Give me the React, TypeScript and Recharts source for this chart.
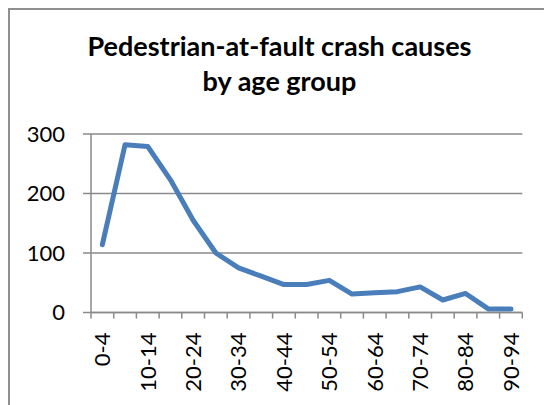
import { LineChart, Line, XAxis, YAxis, CartesianGrid } from "recharts"

const ageGroups = [
  "0-4", "5-9", "10-14", "15-19", "20-24", "25-29", "30-34", "35-39", "40-44", "45-49",
  "50-54", "55-59", "60-64", "65-69", "70-74", "75-79", "80-84", "85-89", "90-94",
]
const crashes = [114, 282, 279, 223, 155, 100, 75, 61, 47, 47, 54, 31, 33, 35, 43, 21, 32, 6, 6]
const yTicks = [0, 100, 200, 300]
const titleLines = ["Pedestrian-at-fault crash causes", "by age group"]

const data = ageGroups.map((group, i) => ({ idx: i, group, crashes: crashes[i] }))

// tick slots: category edges (x.5) get a tick mark, every other category center gets a label
const xTicks: number[] = []
for (let v = -0.5; v <= ageGroups.length - 0.5; v += 0.5) xTicks.push(v)

const GRID = "#8a8a8a"
const FONT = "Lato, 'Open Sans', sans-serif"

function AgeTick(props: any) {
  const { x, y, payload } = props
  const v = payload.value
  if (!Number.isInteger(v)) {
    return <line x1={x} x2={x} y1={y} y2={y + 6} stroke={GRID} strokeWidth={1.5} />
  }
  if (v % 2 !== 0) return <g />
  const ty = y + 20
  return (
    <text
      x={x}
      y={ty}
      transform={`rotate(-90, ${x}, ${ty})`}
      textAnchor="end"
      dy="0.36em"
      fontSize={22}
      fontFamily={FONT}
      fill="#000"
    >
      {ageGroups[v]}
    </text>
  )
}

export default function App() {
  return (
    <div
      style={{
        position: "absolute",
        left: 8,
        top: 8,
        width: 536,
        height: 397,
        borderTop: "2px solid #8f8f8f",
        borderLeft: "2px solid #8f8f8f",
        boxSizing: "border-box",
        background: "#fff",
      }}
    >
      <svg width={534} height={100} style={{ position: "absolute", left: 0, top: 0 }}>
        {titleLines.map((t, i) => (
          <text
            key={t}
            x={269.5}
            y={46 + i * 35}
            textAnchor="middle"
            fontFamily={FONT}
            fontWeight={700}
            fontSize={27}
            fill="#000"
          >
            {t}
          </text>
        ))}
      </svg>
      <LineChart
        width={534}
        height={387}
        data={data}
        margin={{ top: 124, right: 21.7, bottom: 0, left: 0 }}
        style={{ position: "absolute", left: 0, top: 0 }}
      >
        <CartesianGrid vertical={false} stroke={GRID} strokeWidth={1.5} />
        <XAxis
          type="number"
          dataKey="idx"
          domain={[-0.5, ageGroups.length - 0.5]}
          ticks={xTicks}
          interval={0}
          height={84.5}
          tickLine={false}
          tickSize={0}
          tickMargin={0}
          axisLine={{ stroke: GRID, strokeWidth: 1.5 }}
          tick={<AgeTick />}
        />
        <YAxis
          type="number"
          domain={[0, 300]}
          ticks={yTicks}
          width={81}
          tickSize={8}
          tickMargin={18}
          tickLine={{ stroke: GRID, strokeWidth: 1.5 }}
          axisLine={{ stroke: GRID, strokeWidth: 1.5 }}
          tick={{ fontSize: 22, fontFamily: FONT, fill: "#000" }}
        />
        <Line
          type="linear"
          dataKey="crashes"
          stroke="#4a7ebb"
          strokeWidth={5}
          strokeLinecap="round"
          strokeLinejoin="round"
          dot={false}
          activeDot={false}
          isAnimationActive={false}
        />
      </LineChart>
    </div>
  )
}
